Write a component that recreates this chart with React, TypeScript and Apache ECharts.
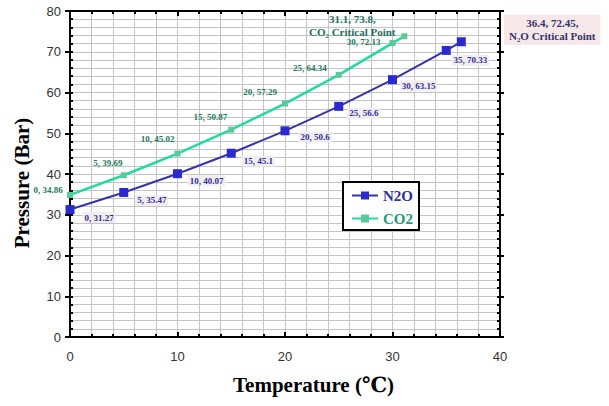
import React, { useEffect, useRef } from "react";
import * as echarts from "echarts";

const n2oTemp = [0, 5, 10, 15, 20, 25, 30, 35, 36.4];
const n2oPressure = [31.27, 35.47, 40.07, 45.1, 50.6, 56.6, 63.15, 70.33, 72.45];
const co2Temp = [0, 5, 10, 15, 20, 25, 30, 31.1];
const co2Pressure = [34.86, 39.69, 45.02, 50.87, 57.29, 64.34, 72.13, 73.8];

const xTicks = { min: 0, max: 40, interval: 10 };
const yTicks = { min: 0, max: 80, interval: 10 };

// label layout offsets (pixels from point centre), not data
const n2oLabelOffsets = [
  [29, 8], [28, 8], [29, 7], [27, 8], [30, 6], [25, 7], [26, 6], [24, 10], [91, -12],
];
const co2LabelOffsets = [
  [-22, -5], [-16, -12], [-20, -15], [-21, -13], [-25, -12], [-29, -7], [-29, -1], [-52, -11],
];

const SERIF = "'Liberation Serif', 'DejaVu Serif', serif";
const TICKFONT = "'Liberation Sans', 'DejaVu Sans', sans-serif";
const N2O_LINE = "#3434a6";
const N2O_MARK = "#2a2ad0";
const CO2_LINE = "#22d9a0";
const CO2_MARK = "#5cc897";

export default function App() {
  const ref = useRef<HTMLDivElement>(null);
  useEffect(() => {
    if (!ref.current) return;
    const chart = echarts.init(ref.current, undefined, { renderer: "svg" });

    const n2oData = n2oTemp.map((t, i) => {
      const last = i === n2oTemp.length - 1;
      return {
        value: [t, n2oPressure[i]],
        label: last
          ? {
              show: true,
              position: "inside",
              offset: n2oLabelOffsets[i],
              formatter: `${t}, ${n2oPressure[i]},\nN₂O Critical Point`,
              fontFamily: SERIF,
              fontSize: 11,
              fontWeight: "bold",
              lineHeight: 13,
              color: "#34346e",
              backgroundColor: "#f6e7e8",
              padding: [2, 5],
              align: "center",
              verticalAlign: "middle",
            }
          : {
              show: true,
              position: "inside",
              offset: n2oLabelOffsets[i],
              formatter: `${t}, ${n2oPressure[i]}`,
              fontFamily: SERIF,
              fontSize: 9,
              fontWeight: "bold",
              color: "#30309a",
              backgroundColor: "rgba(242,236,240,0.9)",
              padding: [1, 2],
              align: "center",
              verticalAlign: "middle",
            },
      };
    });

    const co2Data = co2Temp.map((t, i) => {
      const last = i === co2Temp.length - 1;
      return {
        value: [t, co2Pressure[i]],
        label: last
          ? {
              show: true,
              position: "inside",
              offset: co2LabelOffsets[i],
              formatter: `${t}, ${co2Pressure[i]},\nCO₂ Critical Point`,
              fontFamily: SERIF,
              fontSize: 11,
              fontWeight: "bold",
              lineHeight: 13,
              color: "#1f6e5f",
              align: "center",
              verticalAlign: "middle",
            }
          : {
              show: true,
              position: "inside",
              offset: co2LabelOffsets[i],
              formatter: `${t}, ${co2Pressure[i]}`,
              fontFamily: SERIF,
              fontSize: 9,
              fontWeight: "bold",
              color: "#1d7a5c",
              align: "center",
              verticalAlign: "middle",
            },
      };
    });

    const axisLine = { show: true, onZero: false, lineStyle: { color: "#000", width: 2 } };
    const gridLine = { show: true, lineStyle: { color: "#c4c4c4", width: 1 } };

    chart.setOption({
      animation: false,
      backgroundColor: "#fff",
      grid: { left: 70, right: 109, top: 11, bottom: 69 },
      legend: {
        left: 343,
        top: 182,
        width: 83,
        orient: "vertical",
        backgroundColor: "#fff",
        borderColor: "#000",
        borderWidth: 2,
        borderRadius: 0,
        padding: [6, 6, 4, 8],
        itemGap: 8,
        itemWidth: 26,
        itemHeight: 10,
        textStyle: { fontFamily: SERIF, fontSize: 15, fontWeight: "bold" },
        data: [
          { name: "N2O", textStyle: { color: "#3030a0" } },
          { name: "CO2", textStyle: { color: "#1f9a78" } },
        ],
      },
      xAxis: [
        {
          type: "value",
          position: "bottom",
          ...xTicks,
          axisLine,
          axisTick: { show: true, inside: true, length: 5, lineStyle: { width: 2, color: "#000" } },
          minorTick: { show: true, splitNumber: 5, length: 3, lineStyle: { width: 2, color: "#000" } },
          splitLine: gridLine,
          minorSplitLine: gridLine,
          axisLabel: { margin: 13, fontFamily: TICKFONT, fontSize: 13, color: "#333" },
        },
        {
          type: "value",
          position: "top",
          ...xTicks,
          axisLine,
          axisTick: { show: true, inside: true, length: 5, lineStyle: { width: 2, color: "#000" } },
          minorTick: { show: true, splitNumber: 5, length: 3, lineStyle: { width: 2, color: "#000" } },
          splitLine: { show: false },
          axisLabel: { show: false },
        },
      ],
      yAxis: [
        {
          type: "value",
          position: "left",
          ...yTicks,
          axisLine,
          axisTick: { show: true, inside: false, length: 5, lineStyle: { width: 2, color: "#000" } },
          splitLine: { show: false },
          axisLabel: { margin: 9, fontFamily: TICKFONT, fontSize: 13, color: "#333" },
        },
        {
          type: "value",
          position: "left",
          ...yTicks,
          axisLine,
          axisTick: { show: true, inside: true, length: 3, lineStyle: { width: 2, color: "#000" } },
          minorTick: { show: true, splitNumber: 5, length: 3, lineStyle: { width: 2, color: "#000" } },
          splitLine: gridLine,
          minorSplitLine: gridLine,
          axisLabel: { show: false },
        },
        {
          type: "value",
          position: "right",
          ...yTicks,
          axisLine,
          axisTick: { show: true, inside: true, length: 3, lineStyle: { width: 2, color: "#000" } },
          minorTick: { show: true, splitNumber: 5, length: 3, lineStyle: { width: 2, color: "#000" } },
          splitLine: { show: false },
          axisLabel: { show: false },
        },
        {
          type: "value",
          position: "right",
          ...yTicks,
          axisLine,
          axisTick: { show: true, inside: false, length: 4, lineStyle: { width: 2, color: "#000" } },
          splitLine: { show: false },
          axisLabel: { show: false },
        },
      ],
      series: [
        {
          name: "N2O",
          type: "line",
          xAxisIndex: 0,
          yAxisIndex: 0,
          data: n2oData,
          symbol: "rect",
          symbolSize: 9,
          lineStyle: { color: N2O_LINE, width: 2 },
          itemStyle: { color: N2O_MARK },
          z: 5,
        },
        {
          name: "CO2",
          type: "line",
          xAxisIndex: 0,
          yAxisIndex: 0,
          data: co2Data,
          symbol: "rect",
          symbolSize: 6,
          lineStyle: { color: CO2_LINE, width: 2.5 },
          itemStyle: { color: CO2_MARK },
          z: 4,
        },
      ],
      graphic: [
        {
          type: "text",
          left: 233,
          top: 374,
          style: {
            text: "Temperature (℃)",
            fontFamily: SERIF,
            fontSize: 21,
            fontWeight: "bold",
            fill: "#000",
          },
        },
        {
          type: "text",
          x: 22,
          y: 183,
          rotation: Math.PI / 2,
          style: {
            text: "Pressure (Bar)",
            fontFamily: SERIF,
            fontSize: 21,
            fontWeight: "bold",
            fill: "#000",
            align: "center",
            verticalAlign: "middle",
          },
        },
      ],
    });
    return () => chart.dispose();
  }, []);
  return <div ref={ref} style={{ width: 609, height: 406, position: "absolute", left: 0, top: 0 }} />;
}
